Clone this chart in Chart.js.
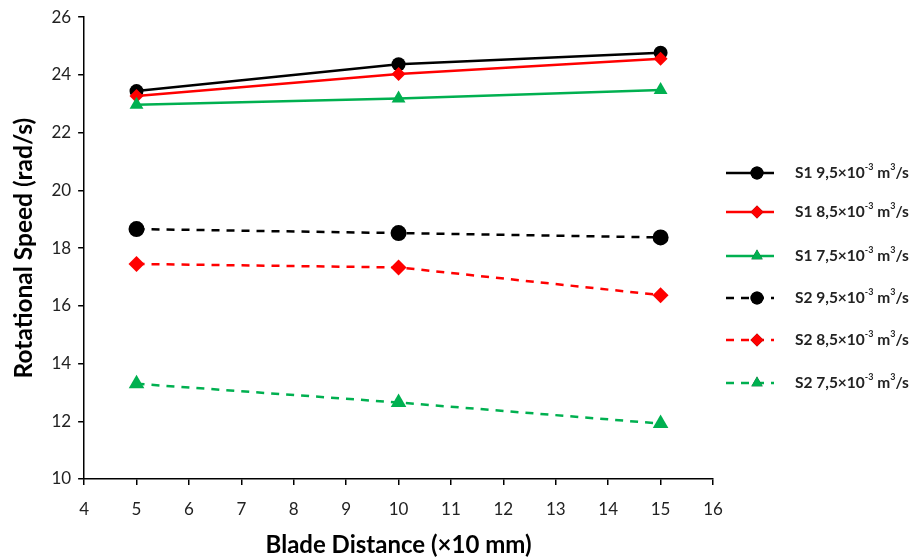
<!DOCTYPE html>
<html>
<head>
<meta charset="utf-8">
<script src="https://cdn.jsdelivr.net/npm/chart.js@4.4.1/dist/chart.umd.min.js"></script>
<style>
  html, body { margin: 0; padding: 0; background: #fff; }
  #wrap { width: 915px; height: 560px; position: relative; }
</style>
</head>
<body>
<div id="wrap"><canvas id="speedChart"></canvas></div>
<script>
// data
var bladeDistance = [5, 10, 15];
var s1Q95 = [23.44, 24.37, 24.77];
var s1Q85 = [23.27, 24.03, 24.56];
var s1Q75 = [22.97, 23.18, 23.48];
var s2Q95 = [18.66, 18.52, 18.37];
var s2Q85 = [17.45, 17.33, 16.37];
var s2Q75 = [13.3, 12.65, 11.92];
var seriesNames = ['S1', 'S1', 'S1', 'S2', 'S2', 'S2'];
var flowRates = ['9,5', '8,5', '7,5', '9,5', '8,5', '7,5'];

var GREEN = '#00b050';

function pts(vals) {
    return vals.map(function (v, i) { return { x: bladeDistance[i], y: v }; });
}

function makeSet(i, vals, color, style, radius, dashed) {
    return {
        label: seriesNames[i] + ' ' + flowRates[i],
        data: pts(vals),
        borderColor: color,
        backgroundColor: color,
        pointBackgroundColor: color,
        pointBorderColor: color,
        pointStyle: style,
        pointRadius: radius,
        pointBorderWidth: 0,
        borderWidth: 2.5,
        borderDash: dashed ? [8, 7] : [],
        fill: false,
        tension: 0,
        order: 6 - i
    };
}

var datasets = [
    makeSet(0, s1Q95, '#000000', 'circle', 7, false),
    makeSet(1, s1Q85, '#ff0000', 'rectRot', 7, false),
    makeSet(2, s1Q75, GREEN, 'triangle', 8, false),
    makeSet(3, s2Q95, '#000000', 'circle', 8, true),
    makeSet(4, s2Q85, '#ff0000', 'rectRot', 8, true),
    makeSet(5, s2Q75, GREEN, 'triangle', 9, true)
];

// legend: line + marker, then "Sx q×10^-3 m^3/s"
var legendRowsY = [173, 212, 256, 298, 340, 383];
var sideLegend = {
    id: 'sideLegend',
    afterDraw: function (chart) {
        var ctx = chart.ctx;
        ctx.save();
        chart.data.datasets.forEach(function (ds, i) {
            var y = legendRowsY[i];
            ctx.strokeStyle = ds.borderColor;
            ctx.lineWidth = 2.5;
            ctx.setLineDash(ds.borderDash);
            ctx.beginPath();
            ctx.moveTo(726, y);
            ctx.lineTo(774, y);
            ctx.stroke();
            ctx.setLineDash([]);
            Chart.helpers.drawPoint(ctx, {
                pointStyle: ds.pointStyle, radius: 6.5, rotation: 0, borderWidth: 0
            }, 757, y);
            ctx.fillStyle = ds.borderColor;
            ctx.fill();

            ctx.fillStyle = '#222';
            ctx.textBaseline = 'middle';
            ctx.textAlign = 'left';
            var x = 795;
            var parts = [
                [seriesNames[i] + ' ' + flowRates[i] + '×10', 15.5, 0],
                ['-3', 9, -6],
                [' m', 15.5, 0],
                ['3', 9, -6],
                ['/s', 15.5, 0]
            ];
            parts.forEach(function (p) {
                ctx.font = 'bold ' + p[1] + 'px Lato';
                ctx.fillText(p[0], x, y + p[2]);
                x += ctx.measureText(p[0]).width;
            });
        });
        ctx.restore();
    }
};

var ctx = document.getElementById('speedChart').getContext('2d');
var speedChart = new Chart(ctx, {
    type: 'line',
    data: { datasets: datasets },
    plugins: [sideLegend],
    options: {
        responsive: true,
        maintainAspectRatio: false,
        animation: false,
        layout: { padding: { left: 5, top: 8, right: 202, bottom: 0 } },
        plugins: { legend: { display: false }, tooltip: { enabled: false } },
        scales: {
            x: {
                type: 'linear',
                min: 4, max: 16,
                afterFit: function (scale) { scale.height = 81; },
                border: { color: '#000', width: 1.5 },
                grid: { display: true, drawOnChartArea: false, color: '#000', tickLength: 6, lineWidth: 1.5 },
                ticks: { stepSize: 1, color: '#222', font: { family: 'Lato', size: 17 }, padding: 14 },
                title: { display: true, text: 'Blade Distance (×10 mm)', color: '#000',
                         font: { family: 'Lato', size: 24, weight: 'bold' }, padding: { top: 0, bottom: 0 } }
            },
            y: {
                min: 10, max: 26,
                border: { color: '#000', width: 1.5 },
                grid: { display: true, drawOnChartArea: false, color: '#000', tickLength: 6, lineWidth: 1.5 },
                ticks: { stepSize: 2, color: '#222', font: { family: 'Lato', size: 17 }, padding: 7 },
                title: { display: true, text: 'Rotational Speed (rad/s)', color: '#000',
                         font: { family: 'Lato', size: 24.5, weight: 'bold' }, padding: { top: 4, bottom: 6 } }
            }
        }
    }
});
</script>
</body>
</html>
